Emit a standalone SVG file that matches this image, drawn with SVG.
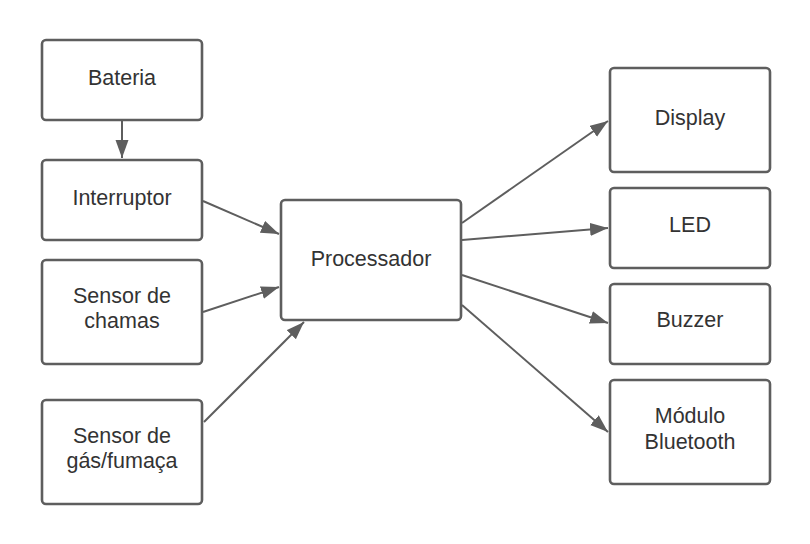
<svg xmlns="http://www.w3.org/2000/svg" width="810" height="544" viewBox="0 0 810 544">
<style>
.box{fill:#ffffff;stroke:#5e5e5e;stroke-width:2.6}
.lbl{font-family:"Liberation Sans",Arial,sans-serif;font-size:21.5px;fill:#333333;text-anchor:middle}
.edge{stroke:#5e5e5e;stroke-width:2;fill:none;marker-end:url(#arr)}
</style>
<defs>
<marker id="arr" markerUnits="userSpaceOnUse" markerWidth="20" markerHeight="14" refX="18" refY="6.5" orient="auto">
<path d="M0,0 L18,6.5 L0,13 z" fill="#5e5e5e"/>
</marker>
</defs>
<rect width="810" height="544" fill="#ffffff"/>
<g id="connectors">
<line class="edge" x1="122" y1="121" x2="122" y2="158"/>
<line class="edge" x1="203" y1="201" x2="279" y2="234"/>
<line class="edge" x1="203" y1="312" x2="279" y2="287"/>
<line class="edge" x1="204" y1="422" x2="304" y2="322"/>
<line class="edge" x1="462" y1="223" x2="608" y2="121"/>
<line class="edge" x1="462" y1="240" x2="608" y2="228"/>
<line class="edge" x1="462" y1="275" x2="608" y2="323"/>
<line class="edge" x1="462" y1="305" x2="608" y2="432"/>
</g>
<g id="bateria"><rect class="box" x="42" y="40" width="160" height="80" rx="4"/><text class="lbl" x="122" y="85">Bateria</text></g>
<g id="interruptor"><rect class="box" x="42" y="160" width="160" height="80" rx="4"/><text class="lbl" x="122" y="205">Interruptor</text></g>
<g id="sensor-chamas"><rect class="box" x="42" y="260" width="160" height="104" rx="4"/><text class="lbl" x="122" y="303">Sensor de</text><text class="lbl" x="122" y="328">chamas</text></g>
<g id="sensor-gas"><rect class="box" x="42" y="400" width="160" height="104" rx="4"/><text class="lbl" x="122" y="443">Sensor de</text><text class="lbl" x="122" y="468">gás/fumaça</text></g>
<g id="processador"><rect class="box" x="281" y="200" width="180" height="120" rx="4"/><text class="lbl" x="371" y="266">Processador</text></g>
<g id="display"><rect class="box" x="610" y="68" width="160" height="104" rx="4"/><text class="lbl" x="690" y="125">Display</text></g>
<g id="led"><rect class="box" x="610" y="188" width="160" height="80" rx="4"/><text class="lbl" x="690" y="232">LED</text></g>
<g id="buzzer"><rect class="box" x="610" y="284" width="160" height="80" rx="4"/><text class="lbl" x="690" y="327">Buzzer</text></g>
<g id="bluetooth"><rect class="box" x="610" y="380" width="160" height="104" rx="4"/><text class="lbl" x="690" y="423">Módulo</text><text class="lbl" x="690" y="449">Bluetooth</text></g>
</svg>
